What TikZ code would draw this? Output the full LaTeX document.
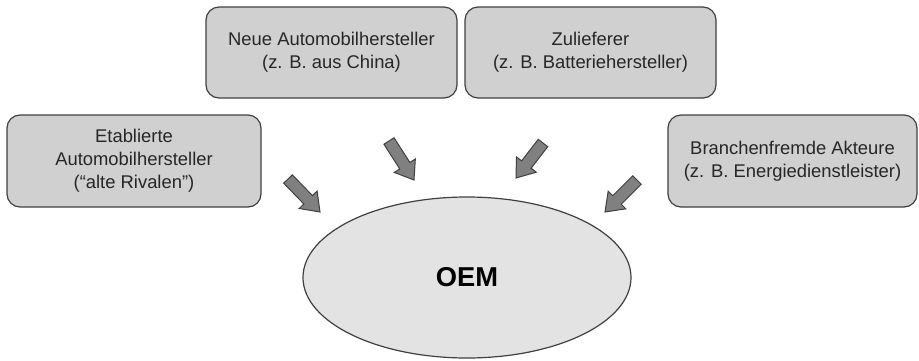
\documentclass[tikz,border=0pt]{standalone}
\usepackage{fontspec}
\setmainfont{Liberation Sans}
\usetikzlibrary{calc}
\definecolor{boxfill}{HTML}{D0D0D0}
\definecolor{ellfill}{HTML}{E3E3E3}
\definecolor{edge}{HTML}{404040}
\definecolor{arrfill}{HTML}{808080}
\tikzset{
  actor/.style={draw=edge, line width=1.2pt, fill=boxfill, rounded corners=13pt,
    align=center, inner sep=0pt, font=\fontsize{18.4}{23}\selectfont, text=black!85},
  oem/.style={draw=edge, line width=1.2pt, fill=ellfill, ellipse, inner sep=0pt,
    font=\fontsize{27.3}{30}\selectfont\bfseries},
  blockarrow/.style={draw=edge, line width=1pt, fill=arrfill, line join=miter}
}
\usetikzlibrary{shapes.geometric}
\newcommand{\blkarrow}[3]{%
  \coordinate (#1-h) at ($(#3)!17pt!(#2)$);
  \draw[blockarrow] ($(#2)!6pt!90:(#3)$) -- ($(#1-h)!6pt!-90:(#2)$) -- ($(#1-h)!12.5pt!-90:(#2)$) -- (#3)
    -- ($(#1-h)!12.5pt!90:(#2)$) -- ($(#1-h)!6pt!90:(#2)$) -- ($(#2)!6pt!-90:(#3)$) -- cycle;
}
\begin{document}
\begin{tikzpicture}[x=1pt,y=-1pt]
\useasboundingbox (0,0) rectangle (919,360);
\node[actor, minimum width=254pt, minimum height=92pt] (etab) at (134,161)
  {Etablierte\\Automobilhersteller\\(“alte Rivalen”)};
\node[actor, minimum width=251pt, minimum height=91pt] (neue) at (331.5,52.5)
  {Neue Automobilhersteller\\(z. B. aus China)};
\node[actor, minimum width=251pt, minimum height=91pt] (zul) at (590.5,52.5)
  {Zulieferer\\(z. B. Batteriehersteller)};
\node[actor, minimum width=249pt, minimum height=92pt] (bran) at (792.5,161)
  {Branchenfremde Akteure\\(z. B. Energiedienstleister)};
\node[oem, minimum width=328pt, minimum height=161pt] (oem) at (467,277.5) {OEM};
\coordinate (t1) at (288,179); \coordinate (p1) at (320,212);
\coordinate (t2) at (389,141); \coordinate (p2) at (414,180);
\coordinate (t3) at (543,143); \coordinate (p3) at (516,178);
\coordinate (t4) at (637,180); \coordinate (p4) at (605,212);
\blkarrow{a1}{t1}{p1}
\blkarrow{a2}{t2}{p2}
\blkarrow{a3}{t3}{p3}
\blkarrow{a4}{t4}{p4}
\end{tikzpicture}
\end{document}
